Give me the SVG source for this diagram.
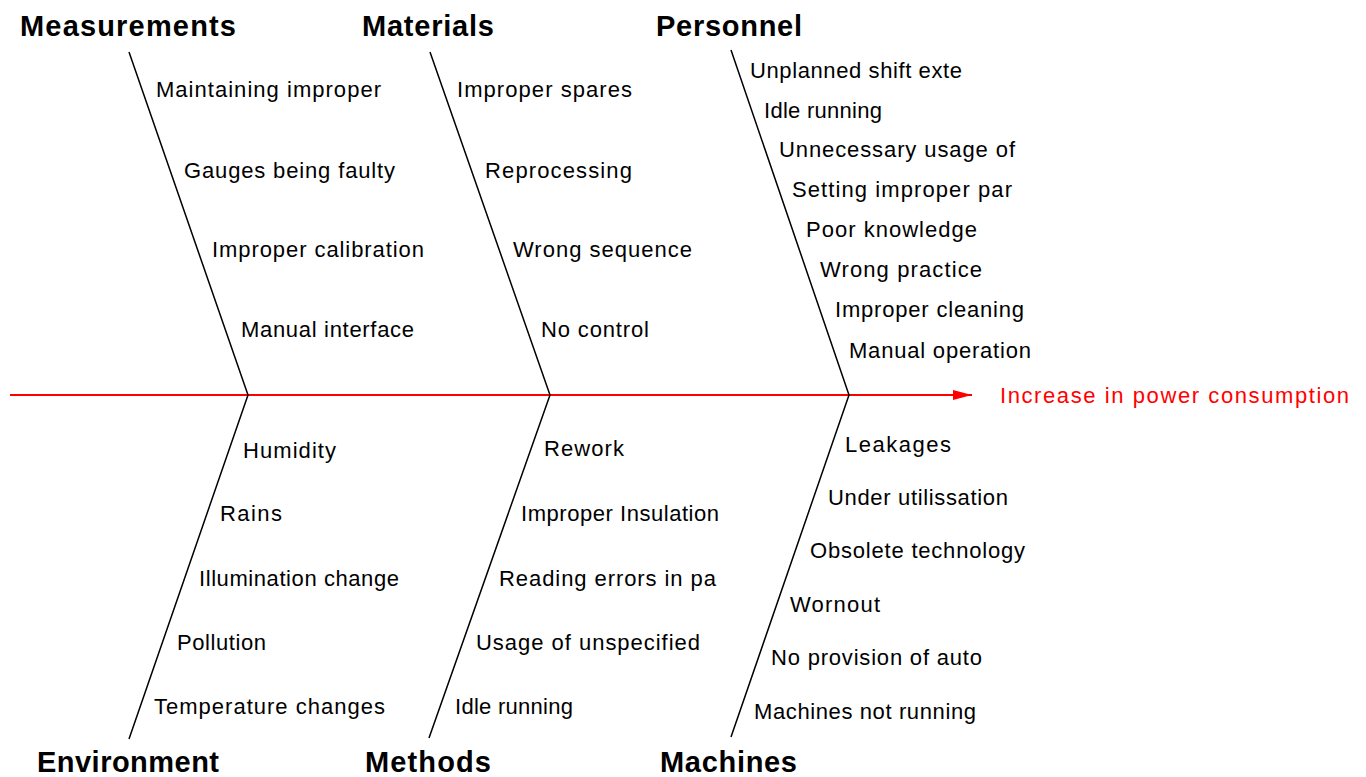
<svg xmlns="http://www.w3.org/2000/svg" width="1366" height="777" viewBox="0 0 1366 777">
<style>
.t{font-family:"Liberation Sans",Arial,sans-serif;font-size:22px;fill:#000}
.h{font-family:"Liberation Sans",Arial,sans-serif;font-size:29px;font-weight:bold;fill:#000}
.bone{stroke:#000;stroke-width:1.5;fill:none}
.eff{font-family:"Liberation Sans",Arial,sans-serif;font-size:22px;fill:#ff0000}
</style>
<defs>
<marker id="ah" markerWidth="20" markerHeight="12" refX="19" refY="6" orient="auto" markerUnits="userSpaceOnUse">
<path d="M0,1 L19,6 L0,11 Z" fill="#ff0000"/>
</marker>
</defs>
<rect width="1366" height="777" fill="#fff"/>
<g id="connectors">
<line x1="10" y1="395" x2="972" y2="395" stroke="#ff0000" stroke-width="2" marker-end="url(#ah)"/>
<polyline class="bone" points="129,52 248,395 129,739"/>
<polyline class="bone" points="430,52 550,395 429,738"/>
<polyline class="bone" points="731,50 849,395 731,737"/>
</g>
<g id="effect"><text class="eff" x="1000" y="403" textLength="349" lengthAdjust="spacing">Increase in power consumption</text></g>
<g id="measurements">
<text class="h" x="20" y="36" textLength="216" lengthAdjust="spacing">Measurements</text>
<text class="t" x="156" y="97" textLength="225" lengthAdjust="spacing">Maintaining improper</text>
<text class="t" x="184" y="178" textLength="211" lengthAdjust="spacing">Gauges being faulty</text>
<text class="t" x="212" y="257" textLength="212" lengthAdjust="spacing">Improper calibration</text>
<text class="t" x="241" y="337" textLength="173" lengthAdjust="spacing">Manual interface</text>
</g>
<g id="materials">
<text class="h" x="362" y="36" textLength="132" lengthAdjust="spacing">Materials</text>
<text class="t" x="457" y="97" textLength="175" lengthAdjust="spacing">Improper spares</text>
<text class="t" x="485" y="178" textLength="147" lengthAdjust="spacing">Reprocessing</text>
<text class="t" x="513" y="257" textLength="179" lengthAdjust="spacing">Wrong sequence</text>
<text class="t" x="541" y="337" textLength="108" lengthAdjust="spacing">No control</text>
</g>
<g id="personnel">
<text class="h" x="656" y="36" textLength="146" lengthAdjust="spacing">Personnel</text>
<text class="t" x="750" y="78" textLength="212" lengthAdjust="spacing">Unplanned shift exte</text>
<text class="t" x="764" y="118" textLength="118" lengthAdjust="spacing">Idle running</text>
<text class="t" x="779" y="157" textLength="236" lengthAdjust="spacing">Unnecessary usage of</text>
<text class="t" x="792" y="197" textLength="220" lengthAdjust="spacing">Setting improper par</text>
<text class="t" x="806" y="237" textLength="171" lengthAdjust="spacing">Poor knowledge</text>
<text class="t" x="820" y="277" textLength="162" lengthAdjust="spacing">Wrong practice</text>
<text class="t" x="835" y="317" textLength="189" lengthAdjust="spacing">Improper cleaning</text>
<text class="t" x="849" y="358" textLength="182" lengthAdjust="spacing">Manual operation</text>
</g>
<g id="environment">
<text class="h" x="37" y="772" textLength="182" lengthAdjust="spacing">Environment</text>
<text class="t" x="243" y="458" textLength="93" lengthAdjust="spacing">Humidity</text>
<text class="t" x="220" y="521" textLength="62" lengthAdjust="spacing">Rains</text>
<text class="t" x="199" y="586" textLength="200" lengthAdjust="spacing">Illumination change</text>
<text class="t" x="177" y="650" textLength="89" lengthAdjust="spacing">Pollution</text>
<text class="t" x="154" y="714" textLength="231" lengthAdjust="spacing">Temperature changes</text>
</g>
<g id="methods">
<text class="h" x="365" y="772" textLength="126" lengthAdjust="spacing">Methods</text>
<text class="t" x="544" y="456" textLength="80" lengthAdjust="spacing">Rework</text>
<text class="t" x="521" y="521" textLength="198" lengthAdjust="spacing">Improper Insulation</text>
<text class="t" x="499" y="586" textLength="217" lengthAdjust="spacing">Reading errors in pa</text>
<text class="t" x="476" y="650" textLength="224" lengthAdjust="spacing">Usage of unspecified</text>
<text class="t" x="455" y="714" textLength="118" lengthAdjust="spacing">Idle running</text>
</g>
<g id="machines">
<text class="h" x="660" y="772" textLength="137" lengthAdjust="spacing">Machines</text>
<text class="t" x="845" y="452" textLength="106" lengthAdjust="spacing">Leakages</text>
<text class="t" x="828" y="505" textLength="180" lengthAdjust="spacing">Under utilissation</text>
<text class="t" x="810" y="558" textLength="215" lengthAdjust="spacing">Obsolete technology</text>
<text class="t" x="790" y="612" textLength="90" lengthAdjust="spacing">Wornout</text>
<text class="t" x="771" y="665" textLength="211" lengthAdjust="spacing">No provision of auto</text>
<text class="t" x="754" y="719" textLength="222" lengthAdjust="spacing">Machines not running</text>
</g>
</svg>
